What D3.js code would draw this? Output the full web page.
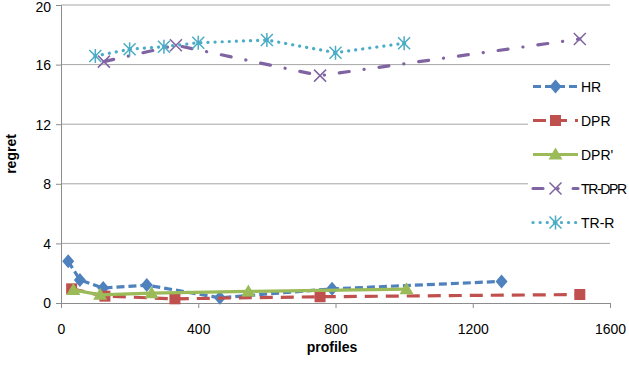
<!DOCTYPE html>
<html lang="en">
  <head>
    <meta charset="utf-8">
    <title>regret vs profiles</title>
    <script type="text/javascript" src="https://d3js.org/d3.v7.min.js"></script>
    <style type="text/css">
      body{
        margin: 0;
        background: #ffffff;
      }
      text {
        font-family: "Liberation Sans", Arial, sans-serif;
      }
    </style>
  </head>
  <body>
    <div id="placeHere"></div>

    <script type="text/javascript">
      //data
      var seriesNames = ["HR", "DPR", "DPR'", "TR-DPR", "TR-R"];

      var hrX = [21, 55, 123, 250, 463, 790, 1284];
      var hrY = [2.8, 1.55, 1.0, 1.2, 0.35, 0.95, 1.45];

      var dprX = [31, 128, 332, 755, 1512];
      var dprY = [0.95, 0.46, 0.28, 0.42, 0.57];

      var dpr2X = [36, 114, 264, 546, 1007];
      var dpr2Y = [0.88, 0.55, 0.66, 0.78, 0.93];

      var trDprX = [125, 335, 755, 1512];
      var trDprY = [16.2, 17.3, 15.26, 17.72];

      var trRX = [100, 200, 300, 400, 600, 800, 1000];
      var trRY = [16.58, 17.03, 17.2, 17.47, 17.65, 16.8, 17.43];

      var xTicks = [0, 400, 800, 1200, 1600];
      var yTicks = [0, 4, 8, 12, 16, 20];

      //width and height
      var w = 629;
      var h = 365;

      var xScale = d3.scaleLinear()
                     .domain([0, 1600])
                     .range([61, 610]);

      var yScale = d3.scaleLinear()
                     .domain([0, 20])
                     .range([303, 5]);

      var svg = d3.select("#placeHere")
                  .append("svg")
                  .attr("width", w)
                  .attr("height", h);

      //gridlines
      svg.selectAll("line.grid")
         .data(yTicks.slice(1))
         .enter()
         .append("line")
         .attr("class", "grid")
         .attr("x1", xScale(0))
         .attr("x2", xScale(1600))
         .attr("y1", function(d){ return yScale(d); })
         .attr("y2", function(d){ return yScale(d); })
         .attr("stroke", "#a6a6a6")
         .attr("stroke-width", 1);

      //y axis
      var yAxis = d3.axisLeft(yScale)
                    .tickValues(yTicks)
                    .tickFormat(d3.format("d"))
                    .tickSize(5)
                    .tickPadding(5);
      var gy = svg.append("g")
                  .attr("transform", "translate(" + xScale(0) + ",0)")
                  .call(yAxis);

      //x axis
      var xAxis = d3.axisBottom(xScale)
                    .tickValues(xTicks)
                    .tickFormat(d3.format("d"))
                    .tickSize(5)
                    .tickPadding(16);
      var gx = svg.append("g")
                  .attr("transform", "translate(0," + yScale(0) + ")")
                  .call(xAxis);

      [gx, gy].forEach(function(g){
        g.select(".domain").attr("stroke", "#8c8c8c");
        g.selectAll(".tick line").attr("stroke", "#8c8c8c");
        g.selectAll(".tick text")
         .attr("font-family", "Liberation Sans, Arial, sans-serif")
         .attr("font-size", "14px")
         .attr("fill", "#000");
      });
      gy.selectAll(".tick text").attr("dy", "0.35em");
      //keep the top label inside the picture
      gy.selectAll(".tick text")
        .filter(function(d){ return d === 20; })
        .attr("dy", "0.45em");

      //axis titles
      svg.append("text")
         .text("profiles")
         .attr("x", 332)
         .attr("y", 352)
         .attr("text-anchor", "middle")
         .attr("font-size", "14px")
         .attr("font-weight", "bold");

      svg.append("text")
         .text("regret")
         .attr("transform", "translate(16,154) rotate(-90)")
         .attr("text-anchor", "middle")
         .attr("font-size", "14px")
         .attr("font-weight", "bold");

      //series styles
      var series = [
        { name: seriesNames[0], xs: hrX, ys: hrY, color: "#4f81bd", dash: "8 4", cap: "butt", marker: "diamond" },
        { name: seriesNames[1], xs: dprX, ys: dprY, color: "#c0504d", dash: "13 8", cap: "butt", marker: "square" },
        { name: seriesNames[2], xs: dpr2X, ys: dpr2Y, color: "#9bbb59", dash: null, cap: "butt", marker: "triangle" },
        { name: seriesNames[3], xs: trDprX, ys: trDprY, color: "#8064a2", dash: "10 15 0.1 15", cap: "round", marker: "cross" },
        { name: seriesNames[4], xs: trRX, ys: trRY, color: "#4bacc6", dash: "0.1 7", cap: "round", marker: "star" }
      ];

      var line = d3.line()
                   .x(function(d){ return xScale(d[0]); })
                   .y(function(d){ return yScale(d[1]); });

      function drawMarker(g, type, color){
        if (type === "diamond") {
          g.append("path").attr("d", "M0,-7L6,0L0,7L-6,0Z").attr("fill", color);
        } else if (type === "square") {
          g.append("rect").attr("x", -5.5).attr("y", -5.5).attr("width", 11).attr("height", 11).attr("fill", color);
        } else if (type === "triangle") {
          g.append("path").attr("d", "M0,-7L7,5L-7,5Z").attr("fill", color);
        } else if (type === "cross") {
          g.append("path").attr("d", "M-6,-6L6,6M-6,6L6,-6")
           .attr("stroke", color).attr("stroke-width", 1.5).attr("fill", "none");
        } else {
          g.append("path").attr("d", "M-6,-6L6,6M-6,6L6,-6M0,-7L0,7")
           .attr("stroke", color).attr("stroke-width", 1.5).attr("fill", "none");
          g.append("circle").attr("r", 2).attr("fill", color);
        }
      }

      //lines and markers
      series.forEach(function(s){
        var pts = s.xs.map(function(x, i){ return [x, s.ys[i]]; });
        svg.append("path")
           .datum(pts)
           .attr("d", line)
           .attr("fill", "none")
           .attr("stroke", s.color)
           .attr("stroke-width", 3.2)
           .attr("stroke-linecap", s.cap)
           .attr("stroke-dasharray", s.dash);

        svg.selectAll(null)
           .data(pts)
           .enter()
           .append("g")
           .attr("transform", function(d){
             return "translate(" + xScale(d[0]) + "," + yScale(d[1]) + ")";
           })
           .each(function(){ drawMarker(d3.select(this), s.marker, s.color); });
      });

      //legend
      svg.append("rect")
         .attr("x", 528)
         .attr("y", 69)
         .attr("width", 101)
         .attr("height", 170)
         .attr("fill", "#ffffff");

      var legend = svg.selectAll("g.legend")
                      .data(series)
                      .enter()
                      .append("g")
                      .attr("class", "legend")
                      .attr("transform", function(d, i){
                        return "translate(0," + (86.5 + i * 34) + ")";
                      });

      legend.append("line")
            .attr("x1", 533)
            .attr("x2", 578)
            .attr("stroke", function(d){ return d.color; })
            .attr("stroke-width", 3.2)
            .attr("stroke-linecap", function(d){ return d.cap; })
            .attr("stroke-dasharray", function(d){ return d.dash; });

      legend.each(function(d){
        var m = d3.select(this).append("g").attr("transform", "translate(555.5,0)");
        drawMarker(m, d.marker, d.color);
      });

      legend.append("text")
            .text(function(d){ return d.name; })
            .attr("x", 581)
            .attr("y", 5)
            .attr("font-size", "14px")
            .attr("textLength", function(d){ return d.name.length > 4 ? 46 : null; })
            .attr("fill", "#000");
    </script>
  </body>
</html>
